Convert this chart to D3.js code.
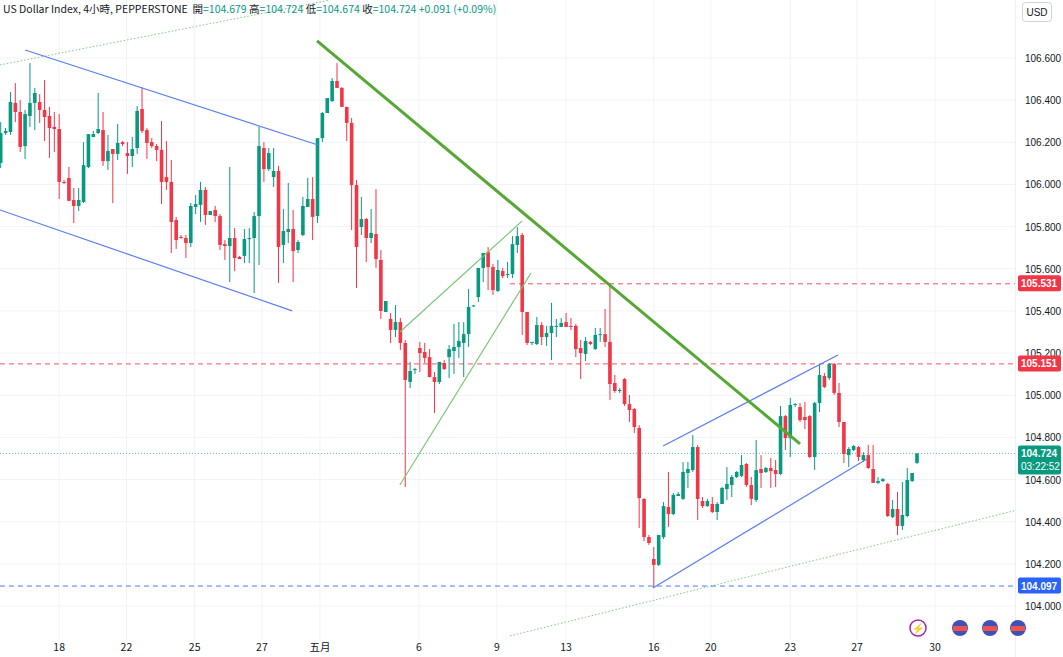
<!DOCTYPE html>
<html><head><meta charset="utf-8">
<script src="https://cdn.jsdelivr.net/npm/d3@7"></script>
<style>body{margin:0;background:#fff;font-family:"Noto Sans CJK SC","Liberation Sans",sans-serif}</style>
</head><body><svg id="c" width="1063" height="657"></svg>
<script>
// OHLC candles, 4h
const candles = [
[106.102,106.296,106.078,106.244],[106.244,106.268,106.235,106.254],[106.249,106.439,106.235,106.391],[106.387,106.481,106.296,106.344],
[106.344,106.401,106.154,106.178],[106.182,106.353,106.121,106.334],[106.325,106.576,106.273,106.387],[106.387,106.458,106.258,106.434],
[106.391,106.429,106.292,106.353],[106.353,106.496,106.206,106.320],[106.325,106.368,106.126,106.268],[106.273,106.344,106.154,106.263],
[106.263,106.334,105.931,106.012],[106.012,106.021,106.002,106.010],[106.031,106.083,105.922,105.922],[105.926,105.983,105.817,105.898],
[105.898,105.983,105.874,105.926],[105.917,106.201,105.912,106.092],[106.083,106.239,106.078,106.239],[106.225,106.254,106.225,106.239],
[106.244,106.434,106.239,106.263],[106.258,106.344,106.088,106.111],[106.111,106.235,106.069,106.159],[106.168,106.168,105.912,106.145],
[106.145,106.287,106.116,106.197],[106.201,106.206,106.182,106.192],[106.149,106.201,106.050,106.135],[106.135,106.225,106.083,106.168],
[106.173,106.372,106.145,106.349],[106.358,106.462,106.244,106.254],[106.258,106.268,106.121,106.197],[106.201,106.220,106.173,106.182],
[106.182,106.192,106.111,106.164],[106.164,106.301,105.907,106.012],[106.035,106.206,105.974,106.012],[106.012,106.116,105.675,105.822],
[105.831,105.846,105.694,105.736],[105.751,105.760,105.741,105.748],[105.746,105.760,105.651,105.722],[105.722,105.912,105.703,105.898],
[105.893,105.950,105.860,105.907],[105.903,106.012,105.822,105.974],[105.974,105.988,105.808,105.855],[105.855,105.874,105.855,105.874],
[105.879,105.898,105.822,105.850],[105.850,105.860,105.689,105.713],[105.717,105.736,105.642,105.708],[105.708,106.083,105.537,105.746],
[105.746,105.793,105.589,105.651],[105.656,105.661,105.646,105.646],[105.661,105.789,105.627,105.741],[105.741,105.793,105.627,105.746],
[105.746,105.869,105.485,105.850],[105.850,106.273,105.618,106.182],[106.173,106.201,106.012,106.073],[106.073,106.173,106.064,106.149],
[106.035,106.173,105.988,106.064],[106.064,106.088,105.533,105.703],[105.713,105.884,105.627,105.779],[105.774,106.007,105.722,105.789],
[105.789,105.879,105.537,105.684],[105.689,105.736,105.675,105.727],[105.760,105.941,105.755,105.898],[105.893,106.031,105.893,105.931],
[105.931,106.035,105.736,105.846],[105.850,106.220,105.817,106.220],[106.220,106.344,106.201,106.339],[106.339,106.410,106.339,106.410],
[106.396,106.505,106.391,106.491],[106.491,106.576,106.458,106.458],[106.458,106.462,106.368,106.368],[106.368,106.368,106.206,106.292],
[106.292,106.315,105.784,105.997],[105.997,106.021,105.509,105.703],[105.798,105.941,105.760,105.836],[105.836,105.841,105.632,105.746],
[105.746,105.884,105.722,105.770],[105.765,105.978,105.604,105.646],[105.642,105.689,105.362,105.400],[105.395,105.447,105.395,105.447],
[105.362,105.390,105.248,105.310],[105.310,105.428,105.276,105.347],[105.347,105.366,105.215,105.248],[105.248,105.262,104.565,105.072],
[105.063,105.158,105.034,105.115],[105.120,105.130,105.101,105.124],[105.224,105.253,105.110,105.200],[105.205,105.248,105.153,105.177],
[105.181,105.219,105.086,105.086],[105.086,105.110,104.916,105.063],[105.063,105.158,105.053,105.158],[105.153,105.167,105.120,105.124],
[105.181,105.238,105.082,105.219],[105.210,105.338,105.101,105.229],[105.229,105.347,105.177,105.257],[105.248,105.347,105.086,105.290],
[105.290,105.504,105.229,105.419],[105.423,105.428,105.419,105.426],[105.466,105.604,105.442,105.604],[105.604,105.675,105.537,105.675],
[105.680,105.703,105.499,105.608],[105.608,105.623,105.476,105.499],[105.495,105.642,105.490,105.594],[105.589,105.604,105.556,105.565],
[105.570,105.632,105.556,105.575],[105.575,105.755,105.556,105.717],[105.713,105.798,105.675,105.755],[105.760,105.770,105.286,105.395],
[105.395,105.395,105.238,105.248],[105.248,105.253,105.238,105.253],[105.243,105.371,105.238,105.333],[105.333,105.347,105.238,105.276],
[105.276,105.329,105.234,105.295],[105.295,105.438,105.167,105.329],[105.324,105.362,105.276,105.329],[105.324,105.366,105.324,105.343],
[105.347,105.390,105.324,105.324],[105.329,105.366,105.310,105.324],[105.329,105.338,105.181,105.219],[105.224,105.262,105.077,105.200],
[105.196,105.276,105.162,105.257],[105.253,105.257,105.238,105.243],[105.219,105.319,105.215,105.286],[105.286,105.319,105.253,105.290],
[105.290,105.409,105.229,105.253],[105.253,105.533,104.977,105.053],[105.058,105.096,105.011,105.020],[105.020,105.034,105.011,105.025],
[105.077,105.082,104.949,104.958],[104.958,105.001,104.873,104.930],[104.935,104.939,104.821,104.849],[104.845,104.858,104.370,104.512],
[104.508,104.512,104.308,104.327],[104.327,104.337,104.290,104.299],[104.223,104.280,104.090,104.195],[104.195,104.337,104.190,104.337],
[104.327,104.493,104.318,104.474],[104.470,104.636,104.375,104.436],[104.436,104.536,104.432,104.527],[104.522,104.541,104.522,104.531],
[104.508,104.683,104.503,104.636],[104.631,104.683,104.560,104.650],[104.645,104.811,104.636,104.754],[104.754,104.764,104.408,104.508],
[104.498,104.517,104.465,104.474],[104.474,104.508,104.470,104.498],[104.484,104.517,104.441,104.446],[104.446,104.493,104.408,104.484],
[104.484,104.565,104.484,104.560],[104.555,104.659,104.503,104.579],[104.574,104.621,104.517,104.612],[104.612,104.640,104.607,104.636],
[104.617,104.716,104.612,104.669],[104.674,104.678,104.565,104.574],[104.574,104.612,104.479,104.508],[104.503,104.788,104.493,104.645],
[104.650,104.716,104.560,104.631],[104.636,104.659,104.631,104.655],[104.655,104.702,104.560,104.640],[104.645,104.693,104.565,104.626],
[104.626,104.949,104.621,104.901],[104.901,104.906,104.740,104.797],[104.797,104.987,104.707,104.954],[104.954,104.963,104.944,104.958],
[104.944,104.963,104.873,104.882],[104.897,104.968,104.840,104.882],[104.901,104.906,104.702,104.707],[104.707,104.968,104.645,104.963],
[104.963,105.143,104.920,105.096],[105.091,105.105,105.034,105.039],[105.082,105.153,105.072,105.148],[105.148,105.153,105.001,105.011],
[105.011,105.058,104.849,104.873],[104.873,104.873,104.678,104.721],[104.716,104.754,104.659,104.745],[104.740,104.764,104.735,104.759],
[104.754,104.759,104.688,104.707],[104.693,104.730,104.683,104.716],[104.716,104.764,104.650,104.655],[104.650,104.764,104.584,104.584],
[104.584,104.612,104.579,104.593],[104.593,104.607,104.588,104.602],[104.579,104.584,104.422,104.427],[104.422,104.503,104.417,104.460],
[104.460,104.541,104.337,104.380],[104.380,104.588,104.361,104.432],[104.427,104.655,104.422,104.598],[104.593,104.631,104.588,104.631],
[104.679,104.724,104.674,104.724]
];
const yTicks = [104.0,104.2,104.4,104.6,104.8,105.0,105.2,105.4,105.6,105.8,106.0,106.2,106.4,106.6];
const xTickPos = [12,25.8,39.8,53.6,65.5,85.8,101.8,116,134,145.7,162,175.7,191.7];
const xTickLabels = ["18","22","25","27","五月","6","9","13","16","20","23","27","30"];
// drawings: [i1,v1,i2,v2]
const blueChannelA = [[5.0,106.638,65.1,106.187],[-0.14,105.879,59.8,105.400]];
const greenTrend = [64.9,106.681,164,104.769];
const greenWedge = [[81.9,105.300,107,105.827],[81.9,104.574,108.8,105.580]];
const blueChannelB = [[135.9,104.759,171.8,105.191],[133.8,104.085,177.7,104.697]];
const dottedLines = [[-0.14,106.567,67.6,106.875],[104.5,103.858,208.5,104.455]];
const hLevels = [{v:105.531,from:104.5,color:"#f23645",label:"105.531"},{v:105.151,from:-2,color:"#f23645",label:"105.151"},{v:104.097,from:-2,color:"#2962ff",label:"104.097"}];
const lastPrice = 104.724, countdown = "03:22:52";
const header = [["US Dollar Index, 4小時, PEPPERSTONE  ","#131722"],["開","#131722"],["=104.679 ","#089981"],["高","#131722"],["=104.724 ","#089981"],["低","#131722"],["=104.674 ","#089981"],["收","#131722"],["=104.724 ","#089981"],["+0.091 (+0.09%)","#089981"]];

const W=1063,H=657,plotR=1015;
const svg=d3.select("#c");
const x=d3.scaleLinear().domain([0,188]).range([0.7,917]);
const y=d3.scaleLinear().domain([104,106.6]).range([606,58]);
const UP="#089981",DN="#f23645";
svg.append("defs").append("clipPath").attr("id","pc").append("rect").attr("width",plotR).attr("height",640);
const plot=svg.append("g").attr("clip-path","url(#pc)");
// grid
plot.selectAll(".gh").data(yTicks).join("line").attr("x1",0).attr("x2",plotR).attr("y1",d=>y(d)).attr("y2",d=>y(d)).attr("stroke","#f0f3fa");
plot.selectAll(".gv").data(xTickPos).join("line").attr("x1",d=>x(d)).attr("x2",d=>x(d)).attr("y1",0).attr("y2",640).attr("stroke","#f0f3fa");
// dotted
dottedLines.forEach(l=>plot.append("line").attr("x1",x(l[0])).attr("y1",y(l[1])).attr("x2",x(l[2])).attr("y2",y(l[3])).attr("stroke","#81c784").attr("stroke-width",1).attr("stroke-dasharray","1.5,2"));
// levels
hLevels.forEach(h=>plot.append("line").attr("x1",x(h.from)).attr("x2",plotR).attr("y1",y(h.v)+0.5).attr("y2",y(h.v)+0.5).attr("stroke",h.color).attr("stroke-opacity",0.85).attr("stroke-dasharray","5,4"));
plot.append("line").attr("x1",0).attr("x2",plotR).attr("y1",y(lastPrice)).attr("y2",y(lastPrice)).attr("stroke",UP).attr("stroke-opacity",0.6).attr("stroke-dasharray","1,2");
// candles
const g=plot.selectAll(".cd").data(candles).join("g");
g.append("line").attr("x1",(d,i)=>x(i)).attr("x2",(d,i)=>x(i)).attr("y1",d=>y(d[1])).attr("y2",d=>y(d[2])).attr("stroke",d=>d[3]>=d[0]?UP:DN).attr("stroke-width",1);
g.append("rect").attr("x",(d,i)=>x(i)-1.8).attr("width",3.6).attr("y",d=>y(Math.max(d[0],d[3]))).attr("height",d=>Math.max(1,Math.abs(y(d[0])-y(d[3])))).attr("fill",d=>d[3]>=d[0]?UP:DN);
// drawings
const seg=(l,c,w)=>plot.append("line").attr("x1",x(l[0])).attr("y1",y(l[1])).attr("x2",x(l[2])).attr("y2",y(l[3])).attr("stroke",c).attr("stroke-width",w);
blueChannelA.forEach(l=>seg(l,"#5b7ff5",1.2));
blueChannelB.forEach(l=>seg(l,"#5b7ff5",1.2));
greenWedge.forEach(l=>seg(l,"#7cc576",1.2));
seg(greenTrend,"#55a832",3);
// right axis
svg.append("line").attr("x1",plotR+0.5).attr("x2",plotR+0.5).attr("y1",0).attr("y2",H).attr("stroke","#eef0f4");
svg.selectAll(".yl").data(yTicks).join("text").attr("x",1025).attr("y",d=>y(d)+4).text(d=>d.toFixed(3)).attr("font-size",10).attr("fill","#131722").attr("font-family","Liberation Sans,sans-serif");
svg.selectAll(".xl").data(xTickPos).join("text").attr("x",d=>x(d)).attr("y",651).attr("text-anchor","middle").text((d,i)=>xTickLabels[i]).attr("font-size",10.5).attr("fill","#131722");
// labels
function tag(v,txt,col,h){svg.append("rect").attr("x",plotR+3).attr("y",y(v)-8).attr("width",43).attr("height",h||16).attr("rx",2).attr("fill",col);
 svg.append("text").attr("x",plotR+6).attr("y",y(v)+4).text(txt).attr("font-size",10).attr("font-weight","bold").attr("fill","#fff").attr("font-family","Liberation Sans,sans-serif");}
hLevels.forEach(h=>tag(h.v,h.label,h.color));
tag(lastPrice,lastPrice.toFixed(3),UP,29);
svg.append("text").attr("x",plotR+6).attr("y",y(lastPrice)+17).text(countdown).attr("font-size",10).attr("fill","#fff").attr("font-family","Liberation Sans,sans-serif");
svg.append("rect").attr("x",1022.5).attr("y",2.5).attr("width",29).attr("height",19).attr("rx",3).attr("fill","#fff").attr("stroke","#d1d4dc");
svg.append("text").attr("x",1037).attr("y",16).attr("text-anchor","middle").text("USD").attr("font-size",10).attr("fill","#131722").attr("font-family","Liberation Sans,sans-serif");
// header
const ht=svg.append("text").attr("x",3).attr("y",13).attr("font-size",10.5);
header.forEach(p=>ht.append("tspan").text(p[0]).attr("fill",p[1]).attr("xml:space","preserve"));
// icons
svg.append("circle").attr("cx",918).attr("cy",628).attr("r",8).attr("fill","#fff").attr("stroke","#9c27b0").attr("stroke-width",1.5);
svg.append("text").attr("x",918).attr("y",632).attr("text-anchor","middle").text("⚡").attr("font-size",10).attr("fill","#9c27b0");
[960,990,1018].forEach(cx=>{svg.append("circle").attr("cx",cx).attr("cy",628).attr("r",8).attr("fill","#3f51b5");
 svg.append("rect").attr("x",cx-7).attr("y",626).attr("width",14).attr("height",5).attr("fill","#ef5350");});
</script></body></html>
